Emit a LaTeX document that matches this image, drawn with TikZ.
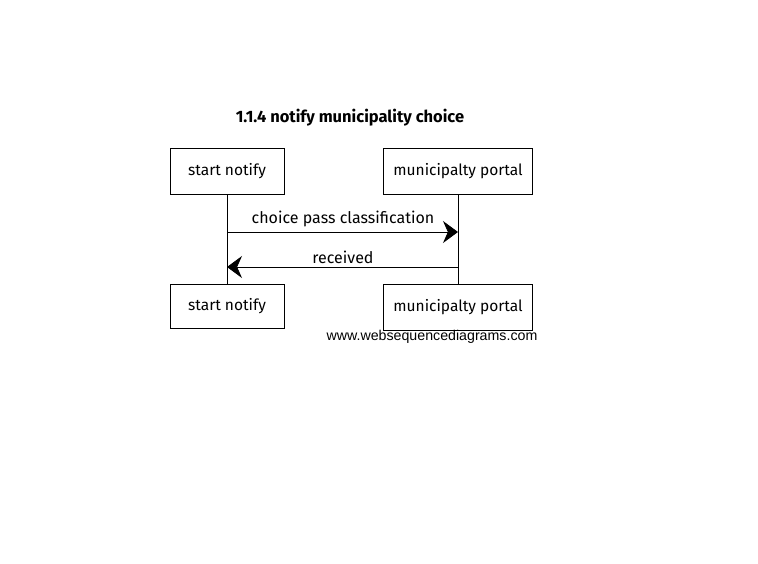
\documentclass[tikz,border=0pt]{standalone}
\usepackage{fontspec}
\setmainfont{Liberation Sans}
\newfontfamily\handfont{Fira Sans}
\usetikzlibrary{arrows.meta}
\begin{document}
\begin{tikzpicture}[x=1pt,y=-1pt,
  actor/.style={draw,line width=0.8pt,minimum width=114pt,minimum height=46pt,inner sep=0pt,font=\handfont\fontsize{15.5}{18}\selectfont},
  lifeline/.style={line width=0.7pt},
  msg/.style={line width=0.9pt,-{Stealth[length=15pt,width=22pt]}},
  lbl/.style={font=\handfont\fontsize{16}{18}\selectfont}]
\useasboundingbox (0,0) rectangle (758,563);
\node[font=\handfont\bfseries\fontsize{16.5}{19}\selectfont] (title) at (350,118) {1.1.4 notify municipality choice};
\node[actor] (a1) at (227,171) {start notify};
\node[actor,minimum width=149pt] (b1) at (458,171) {municipalty portal};
\node[actor,minimum height=44pt] (a2) at (227,306) {start notify};
\node[actor,minimum width=149pt] (b2) at (458,307) {municipalty portal};
\draw[lifeline] (a1) -- (a2);
\draw[lifeline] (b1) -- (b2);
\coordinate (m1s) at (a1.south |- 0,232);
\coordinate (m1e) at (b1.south |- 0,232);
\coordinate (m2s) at (b1.south |- 0,267);
\coordinate (m2e) at (a1.south |- 0,267);
\draw[msg] (m1s) -- (m1e);
\draw[msg] (m2s) -- (m2e);
\node[lbl] (l1) at (343,219) {choice pass classification};
\node[lbl] (l2) at (343,257) {received};
\node[font=\fontsize{14.2}{16}\selectfont] (wm) at (432,337) {www.websequencediagrams.com};
\end{tikzpicture}
\end{document}
